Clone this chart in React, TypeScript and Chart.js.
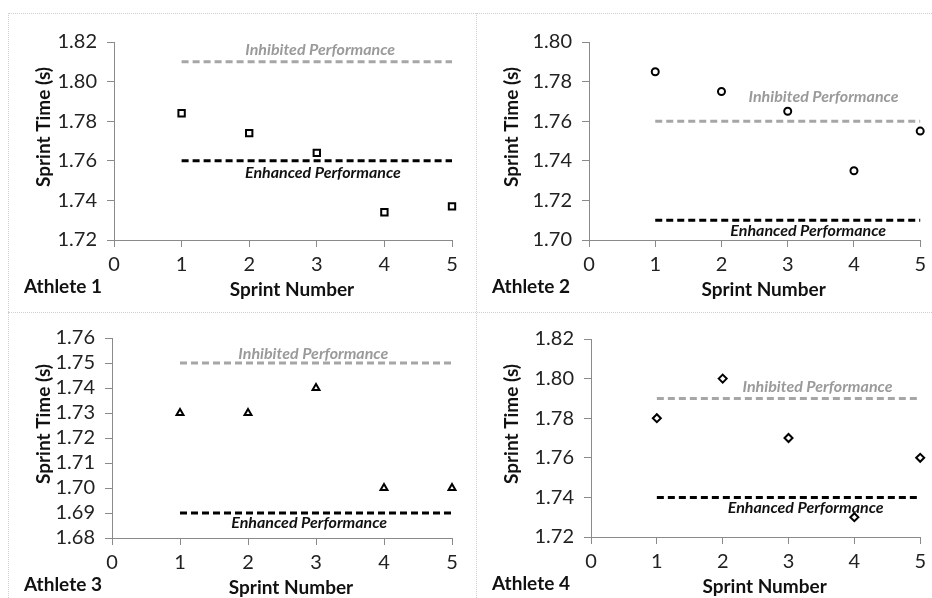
import React, { useEffect, useRef } from "react";
import { Chart, registerables } from "chart.js";

Chart.register(...registerables);

// ---- data ----
const sprintNumbers = [1, 2, 3, 4, 5];
const athleteNames = ["Athlete 1", "Athlete 2", "Athlete 3", "Athlete 4"];
const athlete1Times = [1.784, 1.774, 1.764, 1.734, 1.737];
const athlete2Times = [1.785, 1.775, 1.765, 1.735, 1.755];
const athlete3Times = [1.73, 1.73, 1.74, 1.7, 1.7];
const athlete4Times = [1.78, 1.8, 1.77, 1.73, 1.76];
const inhibitedLevels = [1.81, 1.76, 1.75, 1.79];
const enhancedLevels = [1.76, 1.71, 1.69, 1.74];
const yMins = [1.72, 1.7, 1.68, 1.72];
const yMaxs = [1.82, 1.8, 1.76, 1.82];
const ySteps = [0.02, 0.02, 0.01, 0.02];
const xTickMin = 0;
const xTickMax = 5;
const inhibitedLabel = "Inhibited Performance";
const enhancedLabel = "Enhanced Performance";
const yAxisTitle = "Sprint Time (s)";
const xAxisTitle = "Sprint Number";
// label anchors in data coordinates [x, y]
const inhibitedLabelAnchors = [
  [3.05, 1.816],
  [3.54, 1.7722],
  [2.96, 1.7536],
  [3.44, 1.7958],
];
const enhancedLabelAnchors = [
  [3.09, 1.7538],
  [3.31, 1.7045],
  [2.9, 1.686],
  [3.26, 1.7346],
];
const allTimes = [athlete1Times, athlete2Times, athlete3Times, athlete4Times];

// ---- styles / layout ----
const FONT = "Lato, 'Open Sans', sans-serif";
const markerStyles: any[] = ["rect", "circle", "triangle", "rectRot"];
const markerRadii = [4.5, 3.5, 4, 4];
const boxes = [
  { x: 8, y: 13, w: 468, h: 299 },
  { x: 476, y: 13, w: 456, h: 299 },
  { x: 8, y: 312, w: 468, h: 286 },
  { x: 476, y: 312, w: 456, h: 286 },
];
// chart area in canvas coords: left, right, top, bottom
const areas = [
  { l: 106, r: 444, t: 29, b: 227 },
  { l: 113, r: 445, t: 29, b: 227 },
  { l: 104, r: 444, t: 26, b: 226 },
  { l: 115, r: 445, t: 27, b: 225 },
];
const AXIS_COLOR = "#8a8a8a";
const GRAY_LINE = "#a6a6a6";
const GRAY_TEXT = "#9a9a9a";

function PanelChart({ idx }: { idx: number }) {
  const ref = useRef<HTMLCanvasElement | null>(null);
  const box = boxes[idx];
  const area = areas[idx];

  useEffect(() => {
    if (!ref.current) return;
    const times = allTimes[idx];
    const pointData = sprintNumbers.map((s, i) => ({ x: s, y: times[i] }));
    const first = sprintNumbers[0];
    const last = sprintNumbers[sprintNumbers.length - 1];

    const textPlugin = {
      id: "panelText" + idx,
      afterDatasetsDraw(chart: any) {
        const ctx = chart.ctx;
        const ca = chart.chartArea;
        const xs = chart.scales.x;
        const ys = chart.scales.y;
        ctx.save();
        // line labels
        ctx.textAlign = "center";
        ctx.textBaseline = "middle";
        ctx.font = `italic bold 16px ${FONT}`;
        ctx.fillStyle = GRAY_TEXT;
        const ia = inhibitedLabelAnchors[idx];
        ctx.fillText(inhibitedLabel, xs.getPixelForValue(ia[0]), ys.getPixelForValue(ia[1]));
        ctx.fillStyle = "#111";
        const ea = enhancedLabelAnchors[idx];
        ctx.fillText(enhancedLabel, xs.getPixelForValue(ea[0]), ys.getPixelForValue(ea[1]));
        // axis titles
        ctx.font = `bold 19px ${FONT}`;
        ctx.fillStyle = "#111";
        ctx.fillText(xAxisTitle, (ca.left + ca.right) / 2 + 9, ca.bottom + 50);
        ctx.save();
        ctx.translate(36, (ca.top + ca.bottom) / 2 - 14);
        ctx.rotate(-Math.PI / 2);
        ctx.fillText(yAxisTitle, 0, 0);
        ctx.restore();
        // athlete name
        ctx.textAlign = "left";
        ctx.fillText(athleteNames[idx], 16, ca.bottom + 47);
        ctx.restore();
      },
    };

    const chart = new Chart(ref.current, {
      type: "scatter",
      data: {
        datasets: [
          {
            label: athleteNames[idx],
            data: pointData,
            pointStyle: markerStyles[idx],
            pointRadius: markerRadii[idx],
            pointBorderWidth: 2,
            pointBorderColor: "#000",
            pointBackgroundColor: "#fff",
            showLine: false,
            clip: false as any,
          },
          {
            label: inhibitedLabel,
            data: [
              { x: first, y: inhibitedLevels[idx] },
              { x: last, y: inhibitedLevels[idx] },
            ],
            showLine: true,
            borderColor: GRAY_LINE,
            borderWidth: 3,
            borderDash: [7, 4],
            pointRadius: 0,
            clip: false as any,
          },
          {
            label: enhancedLabel,
            data: [
              { x: first, y: enhancedLevels[idx] },
              { x: last, y: enhancedLevels[idx] },
            ],
            showLine: true,
            borderColor: "#000",
            borderWidth: 3,
            borderDash: [7, 4],
            pointRadius: 0,
            clip: false as any,
          },
        ],
      },
      options: {
        animation: false,
        responsive: false,
        devicePixelRatio: 1,
        layout: { padding: { left: 0, top: area.t, right: box.w - area.r, bottom: 0 } },
        plugins: { legend: { display: false }, tooltip: { enabled: false } },
        scales: {
          x: {
            type: "linear",
            min: xTickMin,
            max: xTickMax,
            afterFit: (s: any) => {
              s.height = box.h - area.b;
            },
            ticks: {
              stepSize: 1,
              autoSkip: false,
              color: "#222",
              font: { family: FONT, size: 20 },
              padding: 6,
            },
            grid: {
              display: true,
              drawOnChartArea: false,
              drawTicks: true,
              tickLength: 7,
              color: AXIS_COLOR,
            },
            border: { display: true, color: AXIS_COLOR, width: 1 },
          },
          y: {
            type: "linear",
            min: yMins[idx],
            max: yMaxs[idx],
            afterFit: (s: any) => {
              s.width = area.l;
            },
            ticks: {
              stepSize: ySteps[idx],
              autoSkip: false,
              maxTicksLimit: 20,
              color: "#222",
              font: { family: FONT, size: 20, lineHeight: 0.9 },
              padding: 10,
              callback: (v: any) => Number(v).toFixed(2),
            },
            grid: {
              display: true,
              drawOnChartArea: false,
              drawTicks: true,
              tickLength: 7,
              color: AXIS_COLOR,
            },
            border: { display: true, color: AXIS_COLOR, width: 1 },
          },
        },
      } as any,
      plugins: [textPlugin],
    });
    return () => chart.destroy();
  }, [idx]);

  return (
    <canvas
      ref={ref}
      width={box.w}
      height={box.h}
      style={{ position: "absolute", left: box.x, top: box.y, width: box.w, height: box.h }}
    />
  );
}

export default function App() {
  const dotted = "1px dotted #cfcfcf";
  return (
    <div
      style={{
        position: "fixed",
        left: 0,
        top: 0,
        width: 932,
        height: 598,
        background: "#fff",
        overflow: "hidden",
      }}
    >
      <div style={{ position: "absolute", left: 8, top: 13, width: 924, height: 0, borderTop: dotted }} />
      <div style={{ position: "absolute", left: 8, top: 312, width: 924, height: 0, borderTop: dotted }} />
      <div style={{ position: "absolute", left: 8, top: 13, width: 0, height: 585, borderLeft: dotted }} />
      <div style={{ position: "absolute", left: 476, top: 13, width: 0, height: 585, borderLeft: dotted }} />
      {[0, 1, 2, 3].map((i) => (
        <PanelChart key={i} idx={i} />
      ))}
    </div>
  );
}
